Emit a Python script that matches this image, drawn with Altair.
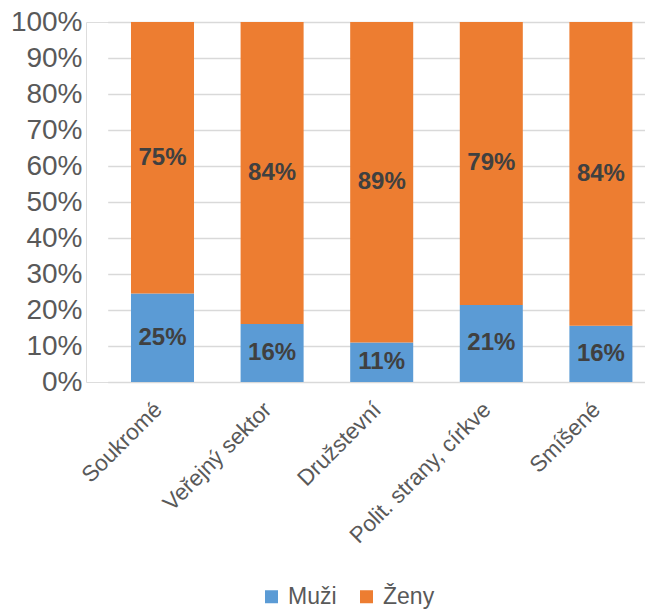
import altair as alt
import pandas as pd

categories = ["Soukromé", "Veřejný sektor", "Družstevní", "Polit. strany, církve", "Smíšené"]
series = ["Muži", "Ženy"]
muzi = [24.6, 16.1, 11.0, 21.4, 15.6]
zeny = [75.4, 83.9, 89.0, 78.6, 84.4]
y_ticks = [0, 10, 20, 30, 40, 50, 60, 70, 80, 90, 100]
colors = ["#5B9BD5", "#ED7D31"]

rows = []
for i, c in enumerate(categories):
    rows.append({"kat": c, "pohlavi": "Muži", "order": 0, "v": muzi[i], "lbl": f"{round(muzi[i])}%"})
    rows.append({"kat": c, "pohlavi": "Ženy", "order": 1, "v": zeny[i], "lbl": f"{round(zeny[i])}%"})
df = pd.DataFrame(rows)

FONT = "Liberation Sans"

xscale = alt.Scale(paddingInner=0.425, range=[21.7, 569.7])
xaxis = alt.Axis(labelAngle=-45, labelFontSize=22.5, labelColor="#595959",
                 labelFont=FONT, ticks=False, domain=False, labelPadding=16,
                 labelOffset=-12, labelLimit=0, labelOverlap=False)
yscale = alt.Scale(domain=[0, 100], nice=False)
yaxis = alt.Axis(values=y_ticks, labelExpr="datum.value + '%'",
                 labelFontSize=28, labelColor="#595959", labelFont=FONT,
                 ticks=False, domain=False, gridColor="#D9D9D9", gridWidth=1.3,
                 labelPadding=4, labelOverlap=False)

bars = alt.Chart(df).mark_bar().encode(
    x=alt.X("kat:N", sort=categories, title=None, scale=xscale, axis=xaxis),
    y=alt.Y("v:Q", stack="zero", title=None, scale=yscale, axis=yaxis),
    color=alt.Color("pohlavi:N", sort=series,
                    scale=alt.Scale(domain=series, range=colors),
                    legend=alt.Legend(orient="none", legendX=174, legendY=563,
                                      direction="horizontal", title=None,
                                      symbolType="square", symbolSize=169, symbolStrokeWidth=0,
                                      labelFontSize=23, labelColor="#595959", labelFont=FONT,
                                      labelOffset=5, columnPadding=18, padding=0)),
    order=alt.Order("order:Q"),
)

labels = alt.Chart(df).transform_stack(
    stack="v", groupby=["kat"], as_=["y0", "y1"], sort=[alt.SortField("order")]
).transform_calculate(
    mid="(datum.y0 + datum.y1) / 2"
).mark_text(fontSize=24, fontWeight="bold", color="#404040", font=FONT, baseline="middle").encode(
    x=alt.X("kat:N", sort=categories, title=None, scale=xscale, axis=xaxis),
    y=alt.Y("mid:Q", title=None, scale=yscale, axis=yaxis),
    text="lbl:N",
)

chart = alt.layer(bars, labels).properties(
    width=559, height=360, padding={"left": 2, "top": 0, "right": 0, "bottom": 0}
).configure_view(stroke=None).configure(background="white")

chart.save("out.html", embed_options={"renderer": "svg", "actions": False})
